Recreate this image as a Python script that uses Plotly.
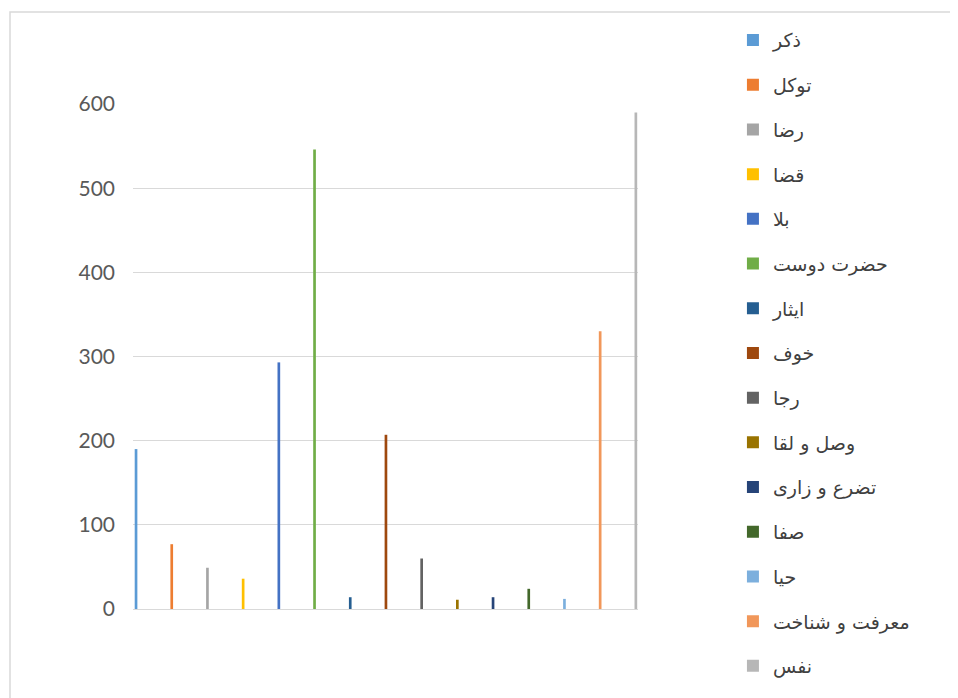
import plotly.graph_objects as go

names = ["ذکر", "توکل", "رضا", "قضا", "بلا", "حضرت دوست", "ایثار", "خوف",
         "رجا", "وصل و لقا", "تضرع و زاری", "صفا", "حیا", "معرفت و شناخت", "نفس"]
values = [190, 77, 49, 36, 293, 546, 14, 207, 60, 11, 14, 24, 12, 330, 590]
colors = ["#5B9BD5", "#ED7D31", "#A5A5A5", "#FFC000", "#4472C4", "#70AD47",
          "#255E91", "#9E480E", "#636363", "#997300", "#264478", "#43682B",
          "#7CAFDD", "#F1975A", "#B7B7B7"]
y_ticks = [0, 100, 200, 300, 400, 500, 600]

fig = go.Figure()
for i, (n, v, c) in enumerate(zip(names, values, colors)):
    fig.add_trace(go.Bar(x=[i], y=[v], name=n, marker_color=c,
                         marker_line_width=0, width=0.075,
                         legendgroup=n))

fig.update_layout(
    width=958, height=698,
    margin=dict(l=125, r=328, t=96, b=97, autoexpand=False),
    paper_bgcolor="white", plot_bgcolor="white",
    barmode="overlay",
    showlegend=True,
    legend=dict(x=1.188, xanchor="left", y=1.164, yanchor="top",
                font=dict(family="DejaVu Sans, Noto Sans", size=19, color="#404040"),
                tracegroupgap=17, itemwidth=30, bgcolor="rgba(0,0,0,0)",
                maxheight=900),
    xaxis=dict(range=[-0.085, 14.06], showticklabels=False, showgrid=False,
               zeroline=False, showline=True, linecolor="#D9D9D9", linewidth=1,
               ticks=""),
    yaxis=dict(range=[0, 600], tickvals=y_ticks, showgrid=True,
               gridcolor="#D9D9D9", gridwidth=1, zeroline=False, showline=False,
               tickfont=dict(family="Lato, Open Sans", size=21, color="#595959"),
               ticklabelstandoff=17),
    shapes=[dict(type="rect", xref="paper", yref="paper",
                 x0=(2 - 125) / 505, x1=(990 - 125) / 505,
                 y0=(601 - 720) / 505, y1=(601 - 4) / 505,
                 line=dict(color="#D9D9D9", width=1.5), layer="below")],
)

fig.write_html("out.html")
